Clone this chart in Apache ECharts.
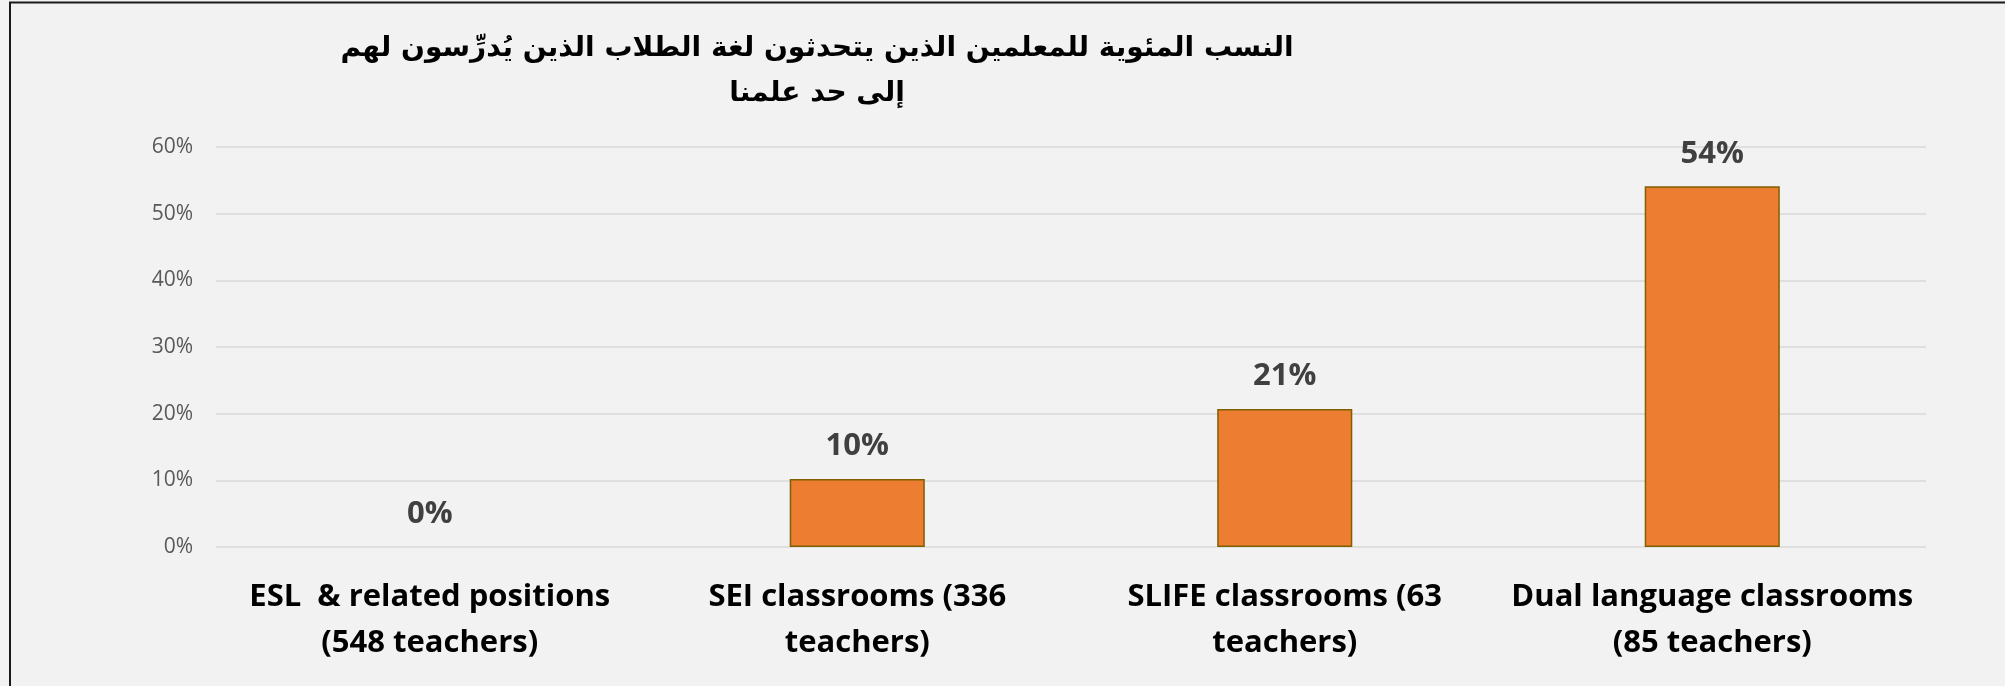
<!DOCTYPE html>
<html>
<head>
<meta charset="utf-8">
<script src="https://cdn.jsdelivr.net/npm/echarts@6/dist/echarts.min.js"></script>
<style>
  html, body { margin: 0; padding: 0; background: #f2f2f2; }
  #main { width: 2005px; height: 686px; }
</style>
</head>
<body>
<div id="main"></div>
<script>
// Data
var titleText = 'النسب المئوية للمعلمين الذين يتحدثون لغة الطلاب الذين يُدرِّسون لهم\nإلى حد علمنا';
var categories = [
	'ESL  & related positions\n(548 teachers)',
	'SEI classrooms (336\nteachers)',
	'SLIFE classrooms (63\nteachers)',
	'Dual language classrooms\n(85 teachers)'
];
var shareValues = [0, 10.2, 20.7, 54.1];   // percent
var yMin = 0, yMax = 60, yStep = 10;

var myChart = echarts.init(document.getElementById('main'));

// a zero bar has no visible outline in the original
var barData = shareValues.map(function (v) {
	return v === 0 ? { value: v, itemStyle: { borderWidth: 0 } } : v;
});

var option = {
	backgroundColor: '#f2f2f2',
	animation: false,
	graphic: [{
		// outer frame
		type: 'rect',
		silent: true,
		shape: { x: 10, y: 2.5, width: 2100, height: 800 },
		style: { fill: 'none', stroke: '#1a1a1a', lineWidth: 2 }
	}, {
		type: 'text',
		silent: true,
		x: 817,
		y: 26,
		style: {
			text: titleText,
			fill: '#000',
			font: 'bold 28px "DejaVu Sans"',
			lineHeight: 45,
			align: 'center',
			verticalAlign: 'top'
		}
	}],
	grid: {
		left: 216,
		right: 79,
		top: 147,
		bottom: 139
	},
	xAxis: {
		type: 'category',
		data: categories,
		axisLine: { show: false },
		axisTick: { show: false },
		axisLabel: {
			margin: 27,
			color: '#000',
			fontFamily: '"Open Sans"',
			fontWeight: 'bold',
			fontSize: 31,
			lineHeight: 46,
			interval: 0
		}
	},
	yAxis: {
		type: 'value',
		min: yMin,
		max: yMax,
		interval: yStep,
		axisLine: { show: false },
		axisTick: { show: false },
		axisLabel: {
			margin: 23,
			color: '#595959',
			fontFamily: '"Open Sans"',
			fontSize: 21,
			formatter: '{value}%'
		},
		splitLine: {
			lineStyle: { color: '#d9d9d9', width: 1.5 }
		}
	},
	series: [{
		type: 'bar',
		data: barData,
		barWidth: '31.6%',
		itemStyle: {
			color: '#ed7d31',
			borderColor: '#7f6000',
			borderWidth: 1.5
		},
		label: {
			show: true,
			position: 'top',
			distance: 17,
			color: '#404040',
			fontFamily: '"Open Sans"',
			fontWeight: 'bold',
			fontSize: 31,
			formatter: function (p) { return Math.round(p.value) + '%'; }
		}
	}]
};

myChart.setOption(option);
</script>
</body>
</html>
